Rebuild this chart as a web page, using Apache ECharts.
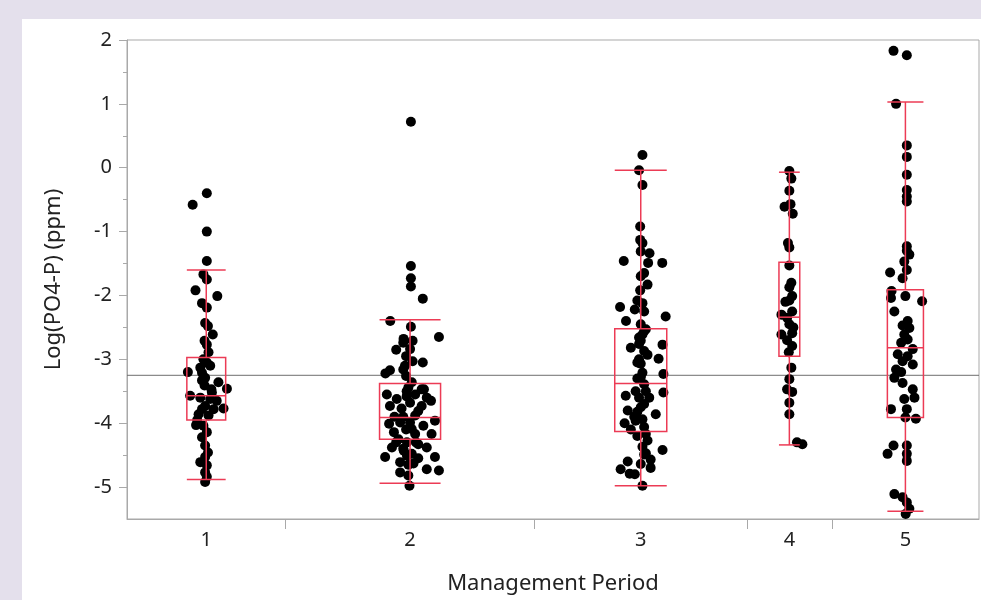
<!DOCTYPE html>
<html>
<head>
<meta charset="utf-8">
<title>Log(PO4-P) by Management Period</title>
<script src="https://cdn.jsdelivr.net/npm/echarts@6/dist/echarts.min.js"></script>
<style>
  html, body { margin: 0; padding: 0; background: #e4e0ec; }
  #Echarts { width: 981px; height: 600px; }
</style>
</head>
<body>
<div id="Echarts"></div>
<script>
// categories and group sizes (x width of each group is proportional to n)
var periods = ['1', '2', '3', '4', '5'];
var groupN = [56, 88, 75, 30, 52];

// box plot stats per group: [low whisker, Q1, median, Q3, high whisker]
var boxStats = [
    [-4.88, -3.95, -3.57, -2.97, -1.60],
    [-4.94, -4.25, -3.91, -3.38, -2.38],
    [-4.98, -4.13, -3.38, -2.52, -0.04],
    [-4.34, -2.95, -2.34, -1.48, -0.07],
    [-5.38, -3.91, -2.82, -1.91, 1.03]
];
var grandMean = -3.25;

// observed values per group
var pointValues = [
    [-0.40, -0.58, -1.00, -1.46, -1.67, -1.75, -1.92, -2.01, -2.12, -2.19, -2.43, -2.48, -2.61, -2.71,
     -2.77, -3.00, -3.05, -3.13, -3.10, -3.20, -3.21, -3.29, -3.36, -3.46, -3.41, -3.47, -3.57, -3.60,
     -3.62, -3.65, -3.77, -3.73, -3.78, -3.86, -3.88, -4.03, -4.04, -4.14, -4.22, -4.35, -4.46, -4.53,
     -4.61, -4.66, -4.77, -4.84, -4.92, -2.89, -3.33, -3.52, -3.95, -3.78],
    [0.72, -1.54, -1.73, -1.86, -2.05, -2.40, -2.49, -2.65, -2.68, -2.71, -2.85, -2.95, -3.03, -3.05,
     -3.17, -3.22, -3.26, -3.44, -3.47, -3.55, -3.65, -3.73, -3.77, -3.68, -3.81, -3.96, -4.01, -3.99,
     -3.99, -4.04, -4.14, -4.10, -4.17, -4.17, -4.25, -4.30, -4.33, -4.38, -4.43, -4.38, -4.53, -4.51,
     -4.55, -4.53, -4.61, -4.63, -4.72, -4.74, -4.77, -4.82, -4.98, -3.50, -3.36, -3.16, -3.10, -2.84,
     -2.74, -3.58, -3.73, -3.88, -3.90, -3.90, -3.62, -4.09, -4.40, -4.48, -3.55, -3.47, -3.60, -4.65,
     -4.30, -4.30],
    [0.20, -0.04, -0.27, -0.92, -1.13, -1.18, -1.31, -1.34, -1.46, -1.49, -1.49, -1.65, -1.70, -1.83,
     -1.92, -2.12, -2.18, -2.22, -2.25, -2.33, -2.40, -2.45, -2.61, -2.71, -2.82, -2.77, -2.87, -3.00,
     -2.99, -3.07, -3.21, -3.23, -3.30, -3.39, -3.52, -3.57, -3.60, -3.70, -3.80, -3.82, -3.86, -3.94,
     -4.00, -3.96, -4.10, -4.17, -4.27, -4.37, -4.42, -4.49, -4.57, -4.60, -4.64, -4.72, -4.79, -4.80,
     -4.98, -2.56, -2.76, -3.28, -3.50, -3.50, -3.75, -4.06, -4.20, -4.47, -3.05, -2.93, -2.66, -3.60,
     -3.90, -4.70, -2.53, -2.08],
    [-0.05, -0.17, -0.36, -0.61, -0.57, -0.72, -1.18, -1.25, -1.53, -1.80, -1.87, -2.01, -2.08, -2.30,
     -2.25, -2.35, -2.45, -2.61, -2.59, -2.70, -2.79, -2.89, -3.13, -3.31, -3.47, -3.51, -3.68, -3.86,
     -4.30, -4.33, -2.50, -2.10],
    [1.83, 1.76, 1.00, 0.35, 0.17, -0.11, -0.35, -0.45, -0.53, -1.23, -1.36, -1.47, -1.60, -1.64,
     -1.73, -1.30, -2.04, -2.01, -2.09, -2.25, -2.40, -2.51, -2.61, -2.74, -2.84, -2.92, -2.95, -3.03,
     -3.08, -3.16, -3.29, -3.37, -3.60, -3.62, -3.78, -3.78, -3.91, -3.93, -4.35, -4.48, -4.35, -4.48,
     -4.59, -5.11, -5.16, -5.24, -5.34, -5.42, -2.47, -2.69, -3.20, -3.47, -1.93]
];

// horizontal jitter of each point (x units, relative to group centre)
var pointJitter = [
    [0.2, -4.8, 0.2, 0.2, -1.0, 0.2, -3.8, 3.9, -1.5, 0.2, -0.4, 0.6, 2.3, -0.6,
     0.2, -1.0, 0.2, -2.1, 1.4, -6.5, -1.5, -0.4, 4.3, 7.3, -0.6, 1.8, -5.7, -2.1,
     1.4, 3.7, 6.1, -0.4, 2.6, -2.7, 0.8, -3.6, -1.0, 0.2, -1.5, -0.4, 0.6, -0.4,
     -2.1, 0.2, -0.4, 0.2, -0.4, 0.8, -1.5, 2.0, -3.2, -1.5],
    [0.3, 0.3, 0.3, 0.3, 4.5, -7.0, 0.3, 10.2, -2.3, 0.9, -4.9, -1.4, 0.9, 4.5,
     -7.1, -8.7, -1.4, -0.6, 4.9, 1.8, 7.4, -7.1, -3.0, 0.0, 2.9, 8.8, -7.4, -3.5,
     0.0, 4.7, -5.7, -1.4, 1.8, 7.6, -4.1, -1.1, 2.9, -6.4, -2.2, 5.9, -8.8, -1.1,
     2.9, 8.8, -3.5, 1.2, 5.9, 10.2, -3.5, -0.6, -0.2, -1.2, 0.6, -2.4, -1.8, 0.0,
     -2.4, -1.2, 4.1, 1.8, -2.4, -5.5, -4.7, 0.6, -2.4, 0.6, -8.2, 4.1, 5.9, -0.6,
     2.1, -4.9],
    [0.6, -0.6, 0.6, -0.2, -0.2, 0.6, 0.0, 3.1, -6.0, 2.6, 7.6, 1.2, 0.0, 2.4,
     -0.2, 0.6, -7.3, -2.1, 1.2, 8.8, -5.2, 0.0, 0.6, 0.0, -3.5, 7.7, 1.2, -0.6,
     6.3, 0.0, 0.6, 8.0, -1.2, 1.2, 8.0, -5.3, -0.6, 1.2, -4.6, -1.2, 5.3, 0.6,
     -5.7, -1.8, -3.5, 1.8, 2.4, 0.6, 7.7, 1.2, 3.5, -4.6, 0.0, -7.1, -3.9, -2.1,
     0.6, 1.2, -0.6, 0.0, 1.8, -1.8, 0.0, 1.2, -1.2, 1.8, -1.2, 2.4, -0.6, 3.0,
     -2.3, 3.5, 1.8, -1.2],
    [0.0, 0.7, 0.0, -1.7, 0.4, 1.2, -0.5, 0.0, 0.0, 0.7, 0.0, 1.0, 0.0, -2.8,
     1.0, -0.8, 0.0, -2.8, 1.0, -0.8, 1.0, -0.2, 0.7, 0.0, -0.8, 1.0, 0.0, 0.0,
     2.7, 4.6, 1.4, -1.4],
    [-4.2, 0.5, -3.3, 0.5, 0.5, 0.5, 0.5, 0.5, 0.5, 0.5, 1.4, -0.4, 0.5, -5.4,
     -1.0, 0.5, -5.1, 0.0, 5.9, -3.9, 0.8, 1.4, -0.4, -1.5, 2.6, -2.7, 0.8, -1.0,
     2.6, -3.3, -3.9, -1.0, 3.2, -0.4, -5.1, 0.5, 0.0, 3.7, -4.2, -6.3, 0.5, 0.5,
     0.5, -3.9, -1.0, 0.5, 1.4, 0.1, -1.0, 0.8, -1.5, 2.6, -4.9]
];

var yTicks = [-5, -4, -3, -2, -1, 0, 1, 2];
var yMinorTicks = [-4.5, -3.5, -2.5, -1.5, -0.5, 0.5, 1.5];

// group boundaries and centres along the x axis
var total = 0, bounds = [], centers = [];
groupN.forEach(function (n, i) {
    centers.push(total + n / 2);
    total += n;
    if (i < groupN.length - 1) bounds.push(total);
});

var scatterData = [];
pointValues.forEach(function (vals, g) {
    vals.forEach(function (v, k) {
        scatterData.push([centers[g] + pointJitter[g][k], v]);
    });
});

var boxData = boxStats.map(function (s, g) {
    return [centers[g], s[0], s[1], s[2], s[3], s[4], groupN[g] * 0.245];
});

var boxColor = '#ec3b55';
var axisGray = '#a9a9a9';
var textColor = '#222';
var font = 'Noto Sans';

var myChart = echarts.init(document.getElementById('Echarts'));

var option = {
    backgroundColor: '#e4e0ec',
    animation: false,
    graphic: [{
        type: 'rect',
        z: -10,
        silent: true,
        shape: { x: 22, y: 19, width: 959, height: 581 },
        style: { fill: '#ffffff' }
    }],
    grid: {
        left: 127, right: 2, top: 40, bottom: 80,
        show: true,
        backgroundColor: 'transparent',
        borderColor: axisGray,
        borderWidth: 1
    },
    xAxis: {
        type: 'value',
        min: 0,
        max: total,
        name: 'Management Period',
        nameLocation: 'middle',
        nameGap: 54,
        nameTextStyle: { color: textColor, fontSize: 22, fontFamily: font },
        axisLine: { show: true, onZero: false, lineStyle: { color: axisGray } },
        axisTick: { show: true, customValues: bounds, length: 10, lineStyle: { color: axisGray } },
        axisLabel: {
            customValues: centers,
            margin: 11,
            color: textColor,
            fontSize: 20,
            fontFamily: font,
            formatter: function (v) {
                for (var i = 0; i < centers.length; i++) {
                    if (Math.abs(centers[i] - v) < 0.01) return periods[i];
                }
                return '';
            }
        },
        splitLine: { show: false }
    },
    yAxis: [{
        type: 'value',
        min: -5.5,
        max: 2,
        name: 'Log(PO4-P) (ppm)',
        nameLocation: 'middle',
        nameGap: 62,
        nameTextStyle: { color: textColor, fontSize: 22, fontFamily: font },
        axisLine: { show: true, onZero: false, lineStyle: { color: axisGray } },
        axisTick: { show: true, customValues: yTicks, length: 8, lineStyle: { color: axisGray } },
        axisLabel: { customValues: yTicks, margin: 15, color: textColor, fontSize: 20, fontFamily: font },
        splitLine: { show: false }
    }, {
        type: 'value',
        min: -5.5,
        max: 2,
        position: 'left',
        axisLine: { show: false, onZero: false },
        axisTick: { show: true, customValues: yMinorTicks, length: 4, lineStyle: { color: axisGray } },
        axisLabel: { show: false },
        splitLine: { show: false }
    }],
    series: [
        {
            name: 'mean',
            type: 'line',
            data: [[0, grandMean], [total, grandMean]],
            symbol: 'none',
            lineStyle: { color: '#6e6e6e', width: 1 },
            z: 1,
            silent: true
        },
        {
            name: 'points',
            type: 'scatter',
            data: scatterData,
            symbolSize: 10,
            itemStyle: { color: '#000', opacity: 1 },
            z: 2
        },
        {
            name: 'box',
            type: 'custom',
            data: boxData,
            z: 3,
            renderItem: function (params, api) {
                var c = api.value(0);
                var hw = api.value(6) / 2;
                var lo = api.coord([c, api.value(1)]);
                var q1 = api.coord([c, api.value(2)]);
                var med = api.coord([c, api.value(3)]);
                var q3 = api.coord([c, api.value(4)]);
                var hi = api.coord([c, api.value(5)]);
                var l = api.coord([c - hw, 0])[0];
                var r = api.coord([c + hw, 0])[0];
                var st = { stroke: boxColor, lineWidth: 1.5, fill: null };
                return {
                    type: 'group',
                    children: [
                        { type: 'rect', shape: { x: l, y: q3[1], width: r - l, height: q1[1] - q3[1] }, style: st },
                        { type: 'line', shape: { x1: l, y1: med[1], x2: r, y2: med[1] }, style: st },
                        { type: 'line', shape: { x1: q3[0], y1: q3[1], x2: hi[0], y2: hi[1] }, style: st },
                        { type: 'line', shape: { x1: q1[0], y1: q1[1], x2: lo[0], y2: lo[1] }, style: st },
                        { type: 'line', shape: { x1: l, y1: hi[1], x2: r, y2: hi[1] }, style: st },
                        { type: 'line', shape: { x1: l, y1: lo[1], x2: r, y2: lo[1] }, style: st }
                    ]
                };
            }
        }
    ]
};

myChart.setOption(option);
</script>
</body>
</html>
